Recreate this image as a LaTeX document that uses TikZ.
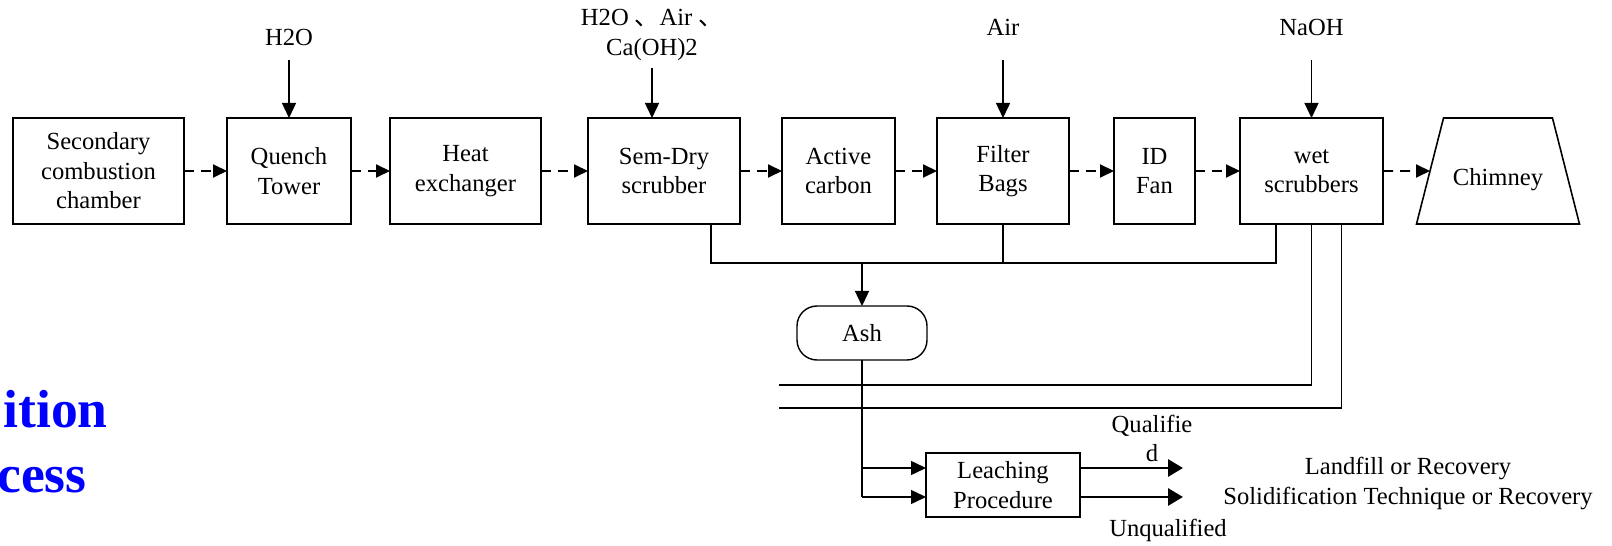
\documentclass[tikz,border=0pt]{standalone}
\usepackage{fontspec}
\setmainfont{Liberation Serif}
\newfontfamily\cjkfont{Noto Sans CJK SC}
\usetikzlibrary{arrows.meta,calc,positioning,shapes.geometric}

\begin{document}
\begin{tikzpicture}[
  node distance=0.86cm,
  every node/.style={font=\fontsize{14}{16.8}\selectfont},
  unitbox/.style={
    draw=black,
    line width=0.9pt,
    align=center,
    minimum width=#1,
    minimum height=2.12cm,
    inner sep=2pt,
    outer sep=0pt
  },
  feed/.style={align=center, inner xsep=2pt, inner ysep=#1},
  feed/.default=0.28cm,
  ashbox/.style={
    draw=black,
    line width=0.8pt,
    rounded corners=0.4cm,
    minimum width=2.6cm,
    minimum height=1.08cm,
    outer sep=0pt
  },
  stack/.style={
    draw=black,
    line width=0.9pt,
    outer sep=0pt,
    trapezium,
    trapezium left angle=75.7,
    trapezium right angle=75.7,
    trapezium stretches body=true,
    text height=0.68cm,
    text depth=0.107cm,
    inner ysep=0.667cm,
    minimum width=3.26cm
  },
  flow/.style={-{Triangle[length=0.28cm,width=0.26cm]}, line width=1.1pt, dash pattern=on 0.2cm off 0.14cm},
  arrow/.style={-{Triangle[length=0.3cm,width=0.28cm]}, line width=0.8pt},
  link/.style={line width=0.8pt},
  outarrow/.style={-{Triangle[length=0.3cm,width=0.34cm]}, line width=1.6pt},
  title/.style={font=\fontsize{30.5}{36}\selectfont\bfseries, text=blue, inner sep=0pt}
]
\useasboundingbox (0,0) rectangle (32.24,-10.92);

% gas cleaning train
\node[unitbox=3.42cm] (secondary) at (1.97,-3.42) {Secondary\\combustion\\chamber};
\node[unitbox=2.48cm, right=0.86cm of secondary] (quench) {Quench\\Tower};
\node[unitbox=3.02cm, right=0.78cm of quench] (heat) {Heat\\exchanger};
\node[unitbox=3.04cm, right=0.94cm of heat] (semdry) {Sem-Dry\\scrubber};
\node[unitbox=2.26cm, right=0.84cm of semdry] (active) {Active\\carbon};
\node[unitbox=2.64cm, right=0.84cm of active] (filter) {Filter\\Bags};
\node[unitbox=1.62cm, right=0.9cm of filter] (idfan) {ID\\Fan};
\node[unitbox=2.86cm, right=0.9cm of idfan] (wet) {wet\\scrubbers};
\node[stack, right=0.94cm of wet] (chimney) {Chimney};

\foreach \a/\b in {secondary/quench,quench/heat,heat/semdry,semdry/active,active/filter,filter/idfan,idfan/wet,wet/chimney}
  \draw[flow] (\a) -- (\b);

% feeds
\node[feed, above=1.16cm of quench] (h2o) {H2O};
\node[feed=0.14cm, above=1.0cm of semdry, xshift=-0.24cm] (semfeed) {H2O {\cjkfont 、}Air {\cjkfont 、}\\Ca(OH)2};
\node[feed=0.48cm, above=1.16cm of filter] (air) {Air};
\node[feed=0.48cm, above=1.16cm of wet] (naoh) {NaOH};
\draw[arrow] (h2o) -- (quench);
\draw[arrow] (semfeed) -- (semfeed |- semdry.north);
\draw[arrow] (air) -- (filter);
\draw[arrow] (naoh) -- (wet);

% ash collection
\node[ashbox] (ash) at (17.24,-6.66) {Ash};
\coordinate (bus) at (0,-5.26);
\coordinate (semout) at ($(semdry.south east)+(-0.58,0)$);
\coordinate (wetout) at ($(wet.south west)+(0.72,0)$);
\draw[link] (semout) |- (wetout |- bus) -- (wetout);
\draw[link] (filter.south) -- (filter.south |- bus);
\draw[arrow] (ash.north |- bus) -- (ash.north);

\coordinate (ret1) at (15.58,-7.70);
\coordinate (ret2) at (15.58,-8.16);
\draw[link] (wet.south) |- (ret1);
\draw[link] ($(wet.south)+(0.6,0)$) |- (ret2);

% leaching
\node[unitbox=3.08cm, minimum height=1.28cm, line width=0.8pt] (leach) at (20.06,-9.70) {Leaching\\Procedure};
\coordinate (leachtop) at ($(leach.west)+(0,0.34)$);
\coordinate (leachbot) at ($(leach.west)+(0,-0.24)$);
\draw[link] (ash.south) -- (ash.south |- leachbot);
\draw[arrow] (ash.south |- leachtop) -- (leachtop);
\draw[arrow] (ash.south |- leachbot) -- (leachbot);
\coordinate (qualend) at ($(leach.east |- leachtop)+(2.06,0)$);
\coordinate (unqualend) at ($(leach.east |- leachbot)+(2.06,0)$);
\draw[outarrow] (leach.east |- leachtop) -- (qualend);
\draw[outarrow] (leach.east |- leachbot) -- (unqualend);

\node[align=center] (qual) at (23.04,-8.77) {Qualifie\\d};
\node (unqual) at (23.36,-10.6) {Unqualified};
\node (landfill) at (28.16,-9.36) {Landfill or Recovery};
\node (solid) at (28.16,-9.96) {Solidification Technique or Recovery};

% slide title fragments
\node[title, anchor=base east] (ition) at (2.16,-8.54) {ition};
\node[title, anchor=base east] (cess) at (1.74,-9.84) {cess};
\end{tikzpicture}
\end{document}
